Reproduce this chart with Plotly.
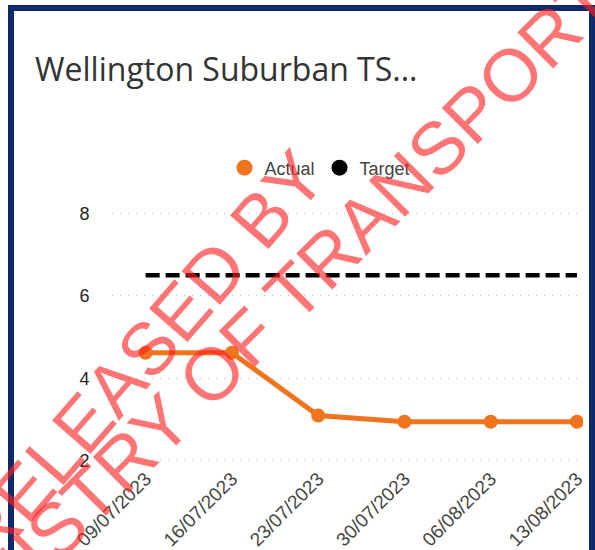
import plotly.graph_objects as go

# ---- data ----
dates = ["09/07/2023", "16/07/2023", "23/07/2023", "30/07/2023", "06/08/2023", "13/08/2023"]
actual = [4.62, 4.62, 3.10, 2.95, 2.95, 2.95]
target = [6.5, 6.5, 6.5, 6.5, 6.5, 6.5]
y_ticks = [2, 4, 6, 8]
title_text = "Wellington Suburban TS..."
watermark_lines = ["RELEASED BY", "MINISTRY OF TRANSPORT"]

# ---- layout geometry ----
W, H = 595, 550
L, R, T, B = 112, 12, 200, 87
PW, PH = W - L - R, H - T - B

def px_x(p):
    return (p - L) / PW

def px_y(p):
    return (H - B - p) / PH

ORANGE = "#F0731E"
NAVY = "#10296B"

fig = go.Figure()

fig.add_trace(go.Scatter(
    x=dates, y=target, mode="lines", name="Target", showlegend=False,
    line=dict(color="#000000", width=4.5, dash="14px,6px"),
    hoverinfo="skip"))
fig.add_trace(go.Scatter(
    x=dates, y=actual, mode="lines+markers", name="Actual", showlegend=False,
    line=dict(color=ORANGE, width=5),
    marker=dict(color=ORANGE, size=14)))

# legend-only entries (circle symbols as in the reference legend)
fig.add_trace(go.Scatter(x=[None], y=[None], mode="markers", name="Actual",
                         marker=dict(color=ORANGE, size=17)))
fig.add_trace(go.Scatter(x=[None], y=[None], mode="markers", name="Target",
                         marker=dict(color="#000000", size=17)))

# border
fig.add_shape(type="rect", xref="paper", yref="paper",
              x0=px_x(11), x1=px_x(592), y0=px_y(570), y1=px_y(8),
              line=dict(color=NAVY, width=6), fillcolor="rgba(0,0,0,0)", layer="above")

# watermark
wm_color = "rgba(255,30,30,0.62)"
fig.add_annotation(text=watermark_lines[0], xref="paper", yref="paper",
                   x=px_x(141), y=px_y(356), showarrow=False, textangle=-49,
                   xanchor="center", yanchor="middle",
                   font=dict(family="Liberation Sans, Arial", size=74, color=wm_color))
fig.add_annotation(text=watermark_lines[1], xref="paper", yref="paper",
                   x=px_x(264), y=px_y(321), showarrow=False, textangle=-45,
                   xanchor="center", yanchor="middle",
                   font=dict(family="Liberation Sans, Arial", size=74, color=wm_color))

fig.update_layout(
    width=W, height=H,
    margin=dict(l=L, r=R, t=T, b=B),
    paper_bgcolor="white", plot_bgcolor="white",
    title=dict(text=title_text, xref="container", yref="container",
               x=35 / W, xanchor="left", y=1 - 70 / H, yanchor="middle",
               font=dict(family="Open Sans", size=32, color="#333333")),
    legend=dict(orientation="h", x=px_x(320), xanchor="center",
                y=px_y(168), yanchor="middle",
                font=dict(family="Liberation Sans, Arial", size=18, color="#444444"),
                itemwidth=30, bgcolor="rgba(0,0,0,0)"),
    xaxis=dict(type="category", range=[-0.39, 5.07], showgrid=False,
               showline=False, zeroline=False, tickangle=-45, automargin=False,
               tickfont=dict(family="Liberation Sans, Arial", size=19, color="#444444")),
    yaxis=dict(range=[1.95, 8.32], tickvals=y_ticks, showgrid=True,
               gridcolor="#BDBDBD", gridwidth=1, griddash="1px,7px",
               zeroline=False, showline=False, automargin=False,
               ticks="outside", ticklen=18, tickcolor="rgba(0,0,0,0)",
               tickfont=dict(family="Liberation Sans, Arial", size=18, color="#252423")),
    showlegend=True,
)

fig.write_html("out.html", config={"displayModeBar": False},
               post_script="document.body.style.margin='0px';")
